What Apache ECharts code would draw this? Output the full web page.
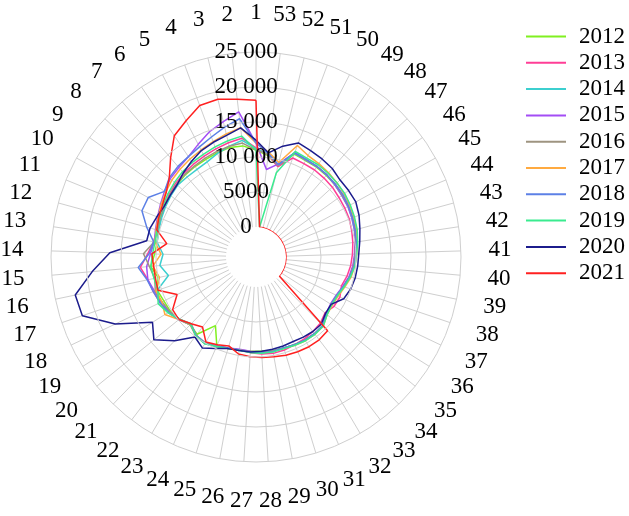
<!DOCTYPE html>
<html><head><meta charset="utf-8">
<script src="https://cdn.jsdelivr.net/npm/echarts@6/dist/echarts.min.js"></script>
<style>html,body{margin:0;padding:0;background:#fff}#c{width:629px;height:516px}</style>
</head><body><div id="c"></div>
<script>
const weekLabels = ['1','2','3','4','5','6','7','8','9','10','11','12','13','14','15','16','17','18','19','20','21','22','23','24','25','26','27','28','29','30','31','32','33','34','35','36','37','38','39','40','41','42','43','44','45','46','47','48','49','50','51','52','53'];
const radiusTicks = [0, 5000, 10000, 15000, 20000, 25000];
const radiusTickLabels = ['0', '5000', '10 000', '15 000', '20 000', '25 000'];
const years = ['2012','2013','2014','2015','2016','2017','2018','2019','2020','2021'];
const colors = ['#80F020','#FF3E96','#3CCFCF','#A34DF5','#9E9480','#FFAA40','#5C80E6','#3AEB8F','#1C1C8C','#FF2020'];

const y2012 = [11000,11700,11800,11600,11400,11300,11200,11000,10800,10600,
  10400,10200,10000,10200,10800,10000,10600,10300,10200,9800,
  9200,9600,7100,9600,9300,9200,9200,9200,9300,9300,
  9400,9500,9500,9400,8700,8400,8500,8900,9400,9700,
  9900,10100,10400,10600,10800,10900,11000,11100,11200,11200,
  11400,9000,10300];
const y2013 = [11300,12800,12500,12200,11900,11700,11500,11300,11000,10700,
  10500,10400,10500,11200,12300,11500,11200,10900,10500,9900,
  9200,9900,10000,9600,9400,9200,9400,9600,9700,9600,
  9400,9300,9100,8900,8400,8900,9000,8600,9000,9300,
  9500,9700,9900,10100,10200,10300,10500,10600,10700,10700,
  10800,9000,10400];
const y2014 = [11200,12500,12000,11500,11000,10800,10800,10900,10700,10500,
  10300,10100,10000,9000,9500,8500,10600,10800,10600,9900,
  9200,9800,10100,9700,9400,9200,9300,9400,9400,9300,
  9400,9500,9500,9400,8700,8400,8500,8900,9400,9700,
  9900,10100,10300,10500,10700,10800,11000,11200,11300,11300,
  11500,9200,10500];
const y2015 = [12000,16600,15600,14800,13800,13000,12600,12300,11800,11300,
  10900,10600,10400,10800,11400,11500,11000,10700,10400,9800,
  9100,9800,10000,9600,9300,9100,9200,9300,9400,9300,
  9400,9500,9500,9400,8600,8300,8400,8800,9300,9600,
  9800,10000,10300,10500,10700,10800,11000,11200,11300,11300,
  11600,9400,8300];
const y2016 = [11000,12100,12000,11800,11600,11400,11300,11100,10900,10700,
  10500,10300,10400,11800,11000,10500,10900,10600,10300,9800,
  9000,9800,10000,9700,9400,9200,9300,9400,9400,9300,
  9400,9500,9500,9400,8700,8400,8500,8900,9400,9700,
  9900,10100,10400,10600,10800,10900,11100,11200,11300,11400,
  11600,9200,10500];
const y2017 = [12000,14300,13800,13300,12900,12600,12300,12000,11600,11200,
  10800,10500,10300,9300,10500,9800,10800,10600,11100,9900,
  9200,9800,10000,9600,9400,9200,9300,9400,9400,9400,
  9500,9600,9600,9500,8800,8600,8700,9100,9600,9900,
  10100,10300,10600,10800,11000,11200,11400,11600,11800,12000,
  12700,9600,10800];
const y2018 = [12000,15600,14800,14000,13400,13000,12800,12500,11800,13300,
  13300,11900,10500,11000,12600,11600,11200,10900,10500,9900,
  9100,9800,10000,9600,9300,9200,9300,9400,9400,9300,
  9400,9500,9500,9400,8700,8400,8500,8900,9400,9800,
  10000,10200,10400,10600,10800,11000,11100,11200,11300,11400,
  11600,9300,10600];
const y2019 = [11000,13100,12800,12500,12200,12000,11800,11500,11200,10900,
  10600,10400,10300,10500,10800,10600,10500,11200,10600,9800,
  9100,9900,10100,9700,9400,9300,9400,9500,9500,9400,
  9500,9600,9600,9500,8800,8500,8600,9000,9500,9900,
  10100,10400,10700,10900,11100,11300,11400,11500,11600,11600,
  11800,8100,0];
const y2020 = [12400,14300,13600,13200,12800,12200,11600,11000,10800,10700,
  11000,11400,11500,16600,19200,22100,21900,18000,13200,14500,
  12400,10100,10800,10000,9400,9300,9300,9200,9100,9000,
  8900,9000,9100,9100,8500,8400,9600,10000,10200,10300,
  10400,10700,11100,11600,12000,12000,12000,12400,12600,12800,
  13100,12000,10700];
const y2021 = [18100,18400,18900,18800,17600,16600,14400,12500,11500,11000,
  10700,10400,8600,10600,10400,10400,10500,8200,9800,9900,
  9000,8300,9800,9400,9000,9800,10000,10100,10200,10400,
  10500,10600,10600,10400,0,0,0,0,0,0,
  0,0,0,0,0,0,0,0,0,0,
  0,0,0];

const seriesValues = [y2012,y2013,y2014,y2015,y2016,y2017,y2018,y2019,y2020,y2021];
const FONT = "'Liberation Serif', 'Times New Roman', serif";
const FS = 23;
const GRID = '#cfcfcf';
const OUTER_R = 205, INNER_R = 30, LABEL_R = 244;

// each week i sits at angle value i; the closing point (angle 53 == angle 0) repeats week 1
function toPolar(vals) {
  const pts = vals.map((v, i) => [v, i]);
  pts.push([vals[0], vals.length]);
  return pts;
}

// Angle labels: ECharts anchors them by a corner; pad each one so that its
// text ends up centred on a circle of radius LABEL_R (like the reference).
const ctx = document.createElement('canvas').getContext('2d');
ctx.font = FS + 'px ' + FONT;
const rich = {};
weekLabels.forEach((t, i) => {
  const th = i / weekLabels.length * 2 * Math.PI;
  const s = Math.sin(th), c = Math.cos(th);
  const d = LABEL_R - OUTER_R;
  const dx = -d * s, dy = -d * c;
  const w = ctx.measureText(t).width, h = FS;
  let pl = 0, pr = 0, pt = 0, pb = 0;
  if (Math.abs(s) < 0.3) { if (dx > 0) pl = 2 * dx; else pr = -2 * dx; }
  else if (s < 0) pl = Math.max(0, dx - w / 2);
  else pr = Math.max(0, -dx - w / 2);
  if (Math.abs(c) < 0.3) { if (dy > 0) pt = 2 * dy; else pb = -2 * dy; }
  else if (c < 0) pt = Math.max(0, dy - h / 2);
  else pb = Math.max(0, -dy - h / 2);
  rich['w' + i] = { fontFamily: FONT, fontSize: FS, color: '#000', padding: [pt, pr, pb, pl] };
});

const chart = echarts.init(document.getElementById('c'), null, {renderer: 'canvas'});
chart.setOption({
  animation: false,
  backgroundColor: '#ffffff',
  polar: { center: [256, 257], radius: [INNER_R, OUTER_R] },
  angleAxis: {
    type: 'value', min: 0, max: weekLabels.length, interval: 1,
    startAngle: 90, clockwise: false,
    axisLine: { show: false },
    axisTick: { show: false },
    splitLine: { show: true, lineStyle: { color: GRID, width: 1 } },
    axisLabel: {
      margin: 0, color: '#000', fontFamily: FONT, fontSize: FS,
      rich: rich,
      formatter: v => (v < weekLabels.length ? '{w' + v + '|' + weekLabels[v] + '}' : '')
    }
  },
  radiusAxis: {
    type: 'value', min: radiusTicks[0], max: radiusTicks[radiusTicks.length - 1],
    interval: radiusTicks[1] - radiusTicks[0],
    z: 10,
    axisLine: { show: false },
    axisTick: { show: false },
    splitLine: { show: true, lineStyle: { color: ['rgba(0,0,0,0)', GRID, GRID, GRID, GRID, GRID], width: 1 } },
    axisLabel: {
      color: '#000', fontFamily: FONT, fontSize: FS, align: 'center', margin: 10,
      padding: [0, 0, 3, 0],
      formatter: v => radiusTickLabels[radiusTicks.indexOf(v)]
    }
  },
  legend: {
    orient: 'vertical', left: 521, top: 20,
    itemWidth: 40, itemHeight: 2, itemGap: 3.3, icon: 'rect',
    textStyle: { color: '#000', fontFamily: FONT, fontSize: FS, lineHeight: FS, padding: [0, 0, 0, 8] },
    data: years
  },
  series: years.map((y, i) => ({
    name: y, type: 'line', coordinateSystem: 'polar',
    symbol: 'none', showSymbol: false,
    lineStyle: { width: 1.5, color: colors[i] },
    itemStyle: { color: colors[i] },
    data: toPolar(seriesValues[i])
  }))
});
</script>
</body></html>
